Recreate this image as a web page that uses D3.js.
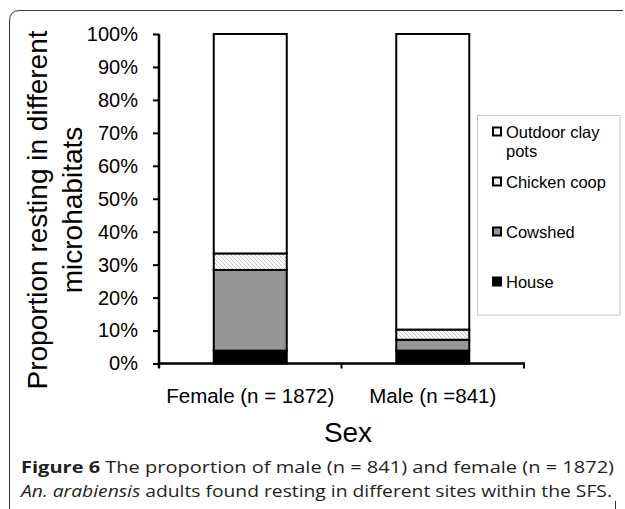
<!DOCTYPE html>
<html><head><meta charset="utf-8">
<script src="https://cdn.jsdelivr.net/npm/d3@7"></script>
<style>
body{margin:0;background:#fff;}
svg{display:block;}
</style></head>
<body>
<svg id="chart" width="625" height="509"></svg>
<script>
const categories = ["Female (n = 1872)", "Male (n =841)"];
const seriesNames = ["House", "Cowshed", "Chicken coop", "Outdoor clay pots"];
const house = [3.9, 3.9];
const cowshed = [24.5, 3.3];
const chickenCoop = [5.0, 3.1];
const outdoorClayPots = [66.6, 89.7];
const yTicks = [0,10,20,30,40,50,60,70,80,90,100];

const svg = d3.select("#chart");
const FONT = "'Liberation Sans', Arial, sans-serif";

// frame
svg.append("path")
  .attr("d","M9.5,509 V21 Q9.5,10.5 20,10.5 H623")
  .attr("fill","none").attr("stroke","#333").attr("stroke-width",1);
svg.append("line").attr("x1",615.5).attr("x2",615.5).attr("y1",501).attr("y2",509)
  .attr("stroke","#333").attr("stroke-width",1);

// pattern
const defs = svg.append("defs");
const pat = defs.append("pattern").attr("id","hatch").attr("patternUnits","userSpaceOnUse")
  .attr("width",4).attr("height",4);
pat.append("rect").attr("width",4).attr("height",4).attr("fill","#fff");
pat.append("path").attr("d","M-1,-1 L5,5 M-1,3 L1,5 M3,-1 L5,1")
  .attr("stroke","#bdbdbd").attr("stroke-width",0.9);

const fills = {"House":"#000","Cowshed":"#969696","Chicken coop":"url(#hatch)","Outdoor clay pots":"#fff"};

const rows = categories.map((c,i)=>({cat:c, "House":house[i], "Cowshed":cowshed[i], "Chicken coop":chickenCoop[i], "Outdoor clay pots":outdoorClayPots[i]}));
const stacked = d3.stack().keys(seriesNames)(rows);

const x = d3.scaleBand().domain(categories).range([159,524]).paddingInner(0.6).paddingOuter(0.3);
const y = d3.scaleLinear().domain([0,100]).range([363.5,34]);

// bars
const g = svg.append("g");
stacked.forEach(s=>{
  g.selectAll(null).data(s).enter().append("rect")
    .attr("x",d=>x(d.data.cat))
    .attr("width",x.bandwidth())
    .attr("y",d=>y(d[1]))
    .attr("height",d=>y(d[0])-y(d[1]))
    .attr("fill",fills[s.key])
    .attr("stroke","#000").attr("stroke-width",2);
});

// y axis
const yAxis = d3.axisLeft(y).tickValues(yTicks).tickFormat(d=>d+"%").tickSize(6).tickPadding(15);
const ya = svg.append("g").attr("transform","translate(159,0)").call(yAxis);
ya.select(".domain").attr("stroke","#000").attr("stroke-width",2.5).attr("d","M0,34V368");
ya.selectAll(".tick line").attr("stroke","#000").attr("stroke-width",2);
ya.selectAll(".tick text").attr("font-family",FONT).attr("font-size",20).attr("fill","#000");

// x axis
const xa = svg.append("g").attr("transform","translate(0,363.5)");
xa.append("line").attr("x1",158).attr("x2",525).attr("y1",0).attr("y2",0)
  .attr("stroke","#000").attr("stroke-width",2.5);
const bounds = [159, x(categories[1]) - x.step()*x.paddingInner()/2, 524];
xa.selectAll(".xt").data(bounds).enter().append("line")
  .attr("x1",d=>d).attr("x2",d=>d).attr("y1",0).attr("y2",5)
  .attr("stroke","#000").attr("stroke-width",2);
xa.selectAll(".xl").data(categories).enter().append("text")
  .attr("x",d=>x(d)+x.bandwidth()/2).attr("y",39.5)
  .attr("text-anchor","middle").attr("font-family",FONT).attr("font-size",20.5)
  .text(d=>d);

// axis titles
svg.append("text").attr("x",348).attr("y",442).attr("text-anchor","middle")
  .attr("font-family",FONT).attr("font-size",28).text("Sex");
const yt = svg.append("text").attr("transform","translate(0,210) rotate(-90)")
  .attr("text-anchor","middle").attr("font-family",FONT).attr("font-size",28);
yt.append("tspan").attr("x",0).attr("y",46.5).text("Proportion resting in different");
yt.append("tspan").attr("x",0).attr("y",81.5).text("microhabitats");

// legend
svg.append("rect").attr("x",477.5).attr("y",115.5).attr("width",142.5).attr("height",199.5)
  .attr("fill","#fff").attr("stroke","#c8c8c8").attr("stroke-width",1);
const legendItems = [
  {name:"Outdoor clay pots", lines:["Outdoor clay","pots"], cy:131.5},
  {name:"Chicken coop", lines:["Chicken coop"], cy:181.5},
  {name:"Cowshed", lines:["Cowshed"], cy:231.5},
  {name:"House", lines:["House"], cy:281.5}
];
legendItems.forEach(it=>{
  svg.append("rect").attr("x",493).attr("y",it.cy-4).attr("width",8).attr("height",8)
    .attr("fill",fills[it.name]).attr("stroke","#000").attr("stroke-width",2);
  const t = svg.append("text").attr("font-family",FONT).attr("font-size",16.5);
  it.lines.forEach((l,i)=>{
    t.append("tspan").attr("x",506).attr("y",it.cy+6+i*19).text(l);
  });
});

// caption
const CF = "'Open Sans', 'Noto Sans', sans-serif";
function fitLine(yPos, parts, x0, x1){
  const t = svg.append("text").attr("x",x0).attr("y",yPos).attr("font-family",CF).attr("font-size",16).attr("fill","#231f20")
    .attr("textLength",x1-x0).attr("lengthAdjust","spacingAndGlyphs");
  parts.forEach(p=>{
    t.append("tspan").attr("font-weight",p.b?"bold":null).attr("font-style",p.i?"italic":null).text(p.t);
  });
}
fitLine(473, [{t:"Figure 6",b:true},{t:" The proportion of male (n = 841) and female (n = 1872)"}], 21, 614);
fitLine(497, [{t:"An. arabiensis",i:true},{t:" adults found resting in different sites within the SFS."}], 21, 612);
</script>
</body></html>
